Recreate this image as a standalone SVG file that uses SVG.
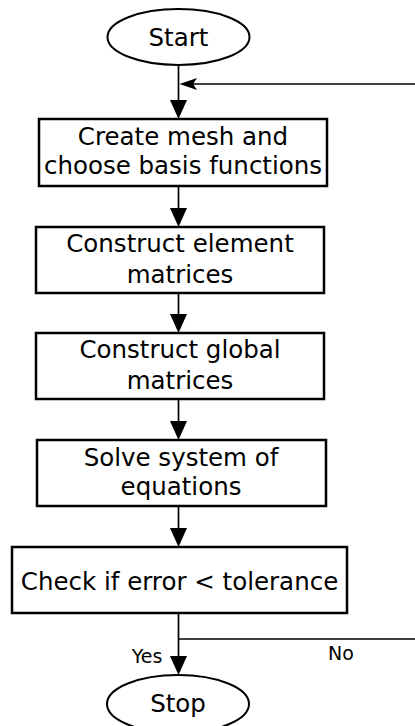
<svg xmlns="http://www.w3.org/2000/svg" width="415" height="726" viewBox="0 0 415 726">
  <style>
    .box { fill: #fff; stroke: #000; stroke-width: 2.5; }
    .term { fill: #fff; stroke: #000; stroke-width: 2; }
    .lbl { font-family: "DejaVu Sans", Verdana, sans-serif; font-size: 24.5px; fill: #000; text-anchor: middle; }
    .small { font-family: "DejaVu Sans", Verdana, sans-serif; font-size: 19px; fill: #000; text-anchor: middle; }
    .wire { fill: none; stroke: #000; stroke-width: 1.7; }
    .head { fill: #000; stroke: none; }
  </style>

  <!-- connectors -->
  <g id="connectors">
    <line class="wire" x1="178.5" y1="65" x2="178.5" y2="104"/>
    <polygon class="head" points="170,100 187,100 178.5,119"/>

    <line class="wire" x1="415" y1="84" x2="190" y2="84"/>
    <polygon class="head" points="179.5,84 197,78 193,84 197,90"/>

    <line class="wire" x1="178.5" y1="186" x2="178.5" y2="212"/>
    <polygon class="head" points="170,208 187,208 178.5,227"/>

    <line class="wire" x1="178.5" y1="293" x2="178.5" y2="318"/>
    <polygon class="head" points="170,314 187,314 178.5,333"/>

    <line class="wire" x1="178.5" y1="399" x2="178.5" y2="425"/>
    <polygon class="head" points="170,421 187,421 178.5,440"/>

    <line class="wire" x1="178.5" y1="506" x2="178.5" y2="532"/>
    <polygon class="head" points="170,528 187,528 178.5,547"/>

    <line class="wire" x1="178.5" y1="613" x2="178.5" y2="660"/>
    <polygon class="head" points="170,656 187,656 178.5,675"/>

    <line class="wire" x1="178.5" y1="639" x2="415" y2="639"/>
    <text class="small" x="147" y="663">Yes</text>
    <text class="small" x="341" y="660">No</text>
  </g>

  <g id="start">
    <ellipse class="term" cx="178.5" cy="37" rx="71" ry="28"/>
    <text class="lbl" x="178.5" y="46">Start</text>
  </g>

  <g id="mesh">
    <rect class="box" x="39" y="119" width="288" height="67"/>
    <text class="lbl" x="183" y="145">Create mesh and</text>
    <text class="lbl" x="183" y="174">choose basis functions</text>
  </g>

  <g id="element">
    <rect class="box" x="36" y="227" width="288" height="66"/>
    <text class="lbl" x="180" y="252">Construct element</text>
    <text class="lbl" x="180" y="283">matrices</text>
  </g>

  <g id="global">
    <rect class="box" x="36" y="333" width="288" height="66"/>
    <text class="lbl" x="180" y="358">Construct global</text>
    <text class="lbl" x="180" y="389">matrices</text>
  </g>

  <g id="solve">
    <rect class="box" x="37" y="440" width="289" height="66"/>
    <text class="lbl" x="181" y="466">Solve system of</text>
    <text class="lbl" x="181" y="495">equations</text>
  </g>

  <g id="check">
    <rect class="box" x="12" y="547" width="335" height="66"/>
    <text class="lbl" x="179.5" y="590">Check if error &lt; tolerance</text>
  </g>

  <g id="stop">
    <ellipse class="term" cx="178" cy="704" rx="71" ry="29"/>
    <text class="lbl" x="178" y="712">Stop</text>
  </g>
</svg>
